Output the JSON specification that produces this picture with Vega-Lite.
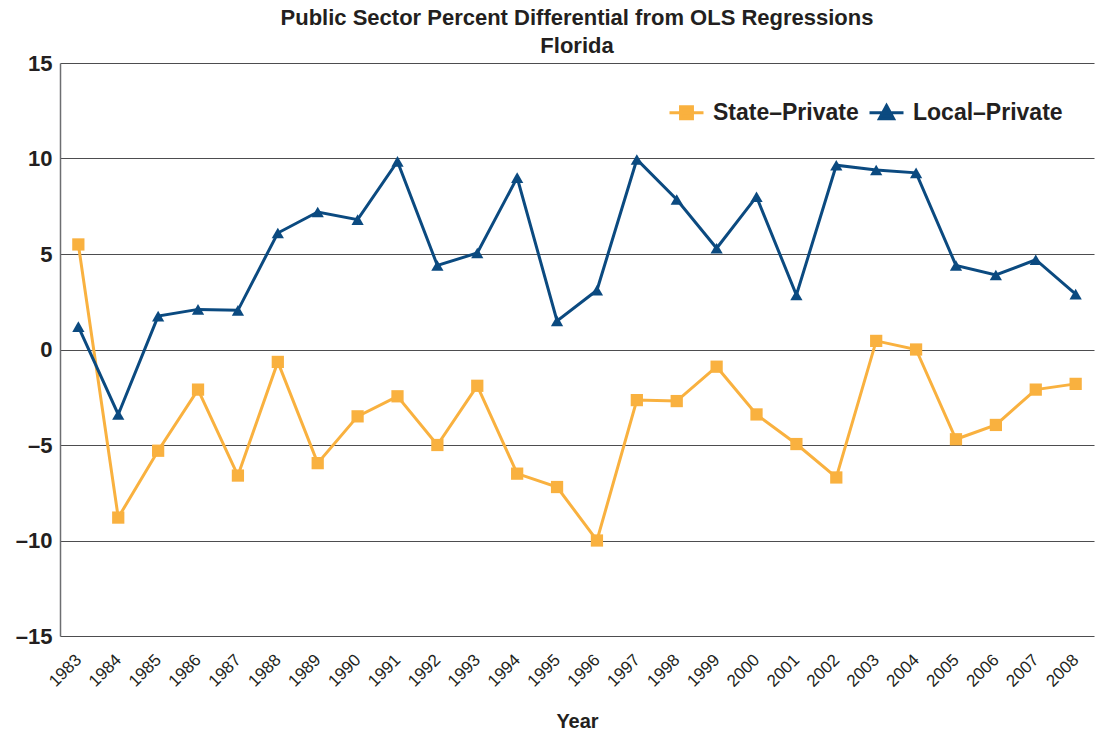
{
  "$schema": "https://vega.github.io/schema/vega-lite/v6.json",
  "width": 1034,
  "height": 573,
  "autosize": {"type": "none"},
  "padding": {"left": 60, "top": 63, "right": 2, "bottom": 100},
  "background": "white",
  "title": {
    "text": ["Public Sector Percent Differential from OLS Regressions", "Florida"],
    "font": "Liberation Sans",
    "fontWeight": "bold",
    "fontSize": 22,
    "lineHeight": 28,
    "color": "#231f20",
    "anchor": "middle",
    "offset": -6
  },
  "config": {
    "view": {"stroke": null},
    "font": "Liberation Sans"
  },
  "data": {
    "values": [
      {"year": "1983", "series": "State–Private", "value": 5.5},
      {"year": "1984", "series": "State–Private", "value": -8.8},
      {"year": "1985", "series": "State–Private", "value": -5.3},
      {"year": "1986", "series": "State–Private", "value": -2.1},
      {"year": "1987", "series": "State–Private", "value": -6.6},
      {"year": "1988", "series": "State–Private", "value": -0.65},
      {"year": "1989", "series": "State–Private", "value": -5.95},
      {"year": "1990", "series": "State–Private", "value": -3.5},
      {"year": "1991", "series": "State–Private", "value": -2.45},
      {"year": "1992", "series": "State–Private", "value": -5.0},
      {"year": "1993", "series": "State–Private", "value": -1.9},
      {"year": "1994", "series": "State–Private", "value": -6.5},
      {"year": "1995", "series": "State–Private", "value": -7.2},
      {"year": "1996", "series": "State–Private", "value": -10.0},
      {"year": "1997", "series": "State–Private", "value": -2.65},
      {"year": "1998", "series": "State–Private", "value": -2.7},
      {"year": "1999", "series": "State–Private", "value": -0.9},
      {"year": "2000", "series": "State–Private", "value": -3.4},
      {"year": "2001", "series": "State–Private", "value": -4.95},
      {"year": "2002", "series": "State–Private", "value": -6.7},
      {"year": "2003", "series": "State–Private", "value": 0.45},
      {"year": "2004", "series": "State–Private", "value": 0.0},
      {"year": "2005", "series": "State–Private", "value": -4.7},
      {"year": "2006", "series": "State–Private", "value": -3.95},
      {"year": "2007", "series": "State–Private", "value": -2.1},
      {"year": "2008", "series": "State–Private", "value": -1.8},
      {"year": "1983", "series": "Local–Private", "value": 1.2},
      {"year": "1984", "series": "Local–Private", "value": -3.4},
      {"year": "1985", "series": "Local–Private", "value": 1.75},
      {"year": "1986", "series": "Local–Private", "value": 2.1},
      {"year": "1987", "series": "Local–Private", "value": 2.05},
      {"year": "1988", "series": "Local–Private", "value": 6.1},
      {"year": "1989", "series": "Local–Private", "value": 7.2},
      {"year": "1990", "series": "Local–Private", "value": 6.8},
      {"year": "1991", "series": "Local–Private", "value": 9.85},
      {"year": "1992", "series": "Local–Private", "value": 4.4},
      {"year": "1993", "series": "Local–Private", "value": 5.05},
      {"year": "1994", "series": "Local–Private", "value": 9.0},
      {"year": "1995", "series": "Local–Private", "value": 1.5},
      {"year": "1996", "series": "Local–Private", "value": 3.1},
      {"year": "1997", "series": "Local–Private", "value": 9.95},
      {"year": "1998", "series": "Local–Private", "value": 7.85},
      {"year": "1999", "series": "Local–Private", "value": 5.3},
      {"year": "2000", "series": "Local–Private", "value": 8.0},
      {"year": "2001", "series": "Local–Private", "value": 2.85},
      {"year": "2002", "series": "Local–Private", "value": 9.65},
      {"year": "2003", "series": "Local–Private", "value": 9.4},
      {"year": "2004", "series": "Local–Private", "value": 9.25},
      {"year": "2005", "series": "Local–Private", "value": 4.4},
      {"year": "2006", "series": "Local–Private", "value": 3.9},
      {"year": "2007", "series": "Local–Private", "value": 4.7},
      {"year": "2008", "series": "Local–Private", "value": 2.9}
    ]
  },
  "encoding": {
    "x": {
      "field": "year",
      "type": "ordinal",
      "scale": {"type": "point", "padding": 0.46},
      "axis": {
        "title": "Year",
        "titleFont": "Liberation Sans",
        "titleFontWeight": "bold",
        "titleFontSize": 20,
        "titleColor": "#231f20",
        "titlePadding": 22,
        "labelAngle": -45,
        "labelAlign": "right",
        "labelBaseline": "middle",
        "labelFontSize": 17,
        "labelColor": "#231f20",
        "labelPadding": 21,
        "ticks": false,
        "domain": false,
        "grid": false
      }
    },
    "y": {
      "field": "value",
      "type": "quantitative",
      "scale": {"domain": [-15, 15], "nice": false},
      "axis": {
        "title": null,
        "values": [-15, -10, -5, 0, 5, 10, 15],
        "labelExpr": "datum.value < 0 ? '–' + abs(datum.value) : '' + datum.value",
        "labelFontSize": 22,
        "labelFontWeight": "bold",
        "labelColor": "#231f20",
        "labelPadding": 8,
        "ticks": false,
        "domain": true,
        "domainColor": "#6d6e71",
        "domainWidth": 1.5,
        "grid": true,
        "gridColor": "#4d4d4f",
        "gridWidth": 1.2
      }
    },
    "color": {
      "field": "series",
      "type": "nominal",
      "scale": {"domain": ["State–Private", "Local–Private"], "range": ["#F9B13F", "#0B4A80"]},
      "legend": {
        "title": null,
        "orient": "none",
        "legendX": 608,
        "legendY": 31,
        "direction": "horizontal",
        "labelFont": "Liberation Sans",
        "labelFontSize": 23,
        "labelFontWeight": "bold",
        "labelColor": "#231f20",
        "labelOffset": 8,
        "columnPadding": 4,
        "symbolSize": 1156,
        "encode": {
          "symbols": {
            "update": {
              "shape": {"signal": "datum.value == 'State–Private' ? 'M-1,0H1M-0.35,-0.35H0.35V0.35H-0.35Z' : 'M-1,0H1M0,-0.42L0.42,0.36H-0.42Z'"},
              "fill": {"signal": "datum.value == 'State–Private' ? '#F9B13F' : '#0B4A80'"},
              "stroke": {"signal": "datum.value == 'State–Private' ? '#F9B13F' : '#0B4A80'"},
              "strokeWidth": {"value": 3},
              "size": {"value": 1156},
              "opacity": {"value": 1}
            }
          }
        }
      }
    }
  },
  "layer": [
    {
      "transform": [{"filter": "datum.series == 'State–Private'"}],
      "mark": {"type": "line", "strokeWidth": 3}
    },
    {
      "transform": [{"filter": "datum.series == 'State–Private'"}],
      "mark": {"type": "point", "shape": "square", "filled": true, "opacity": 1, "size": 150}
    },
    {
      "transform": [{"filter": "datum.series == 'Local–Private'"}],
      "mark": {"type": "line", "strokeWidth": 3}
    },
    {
      "transform": [{"filter": "datum.series == 'Local–Private'"}],
      "mark": {"type": "point", "shape": "triangle-up", "filled": true, "opacity": 1, "size": 150}
    }
  ]
}
